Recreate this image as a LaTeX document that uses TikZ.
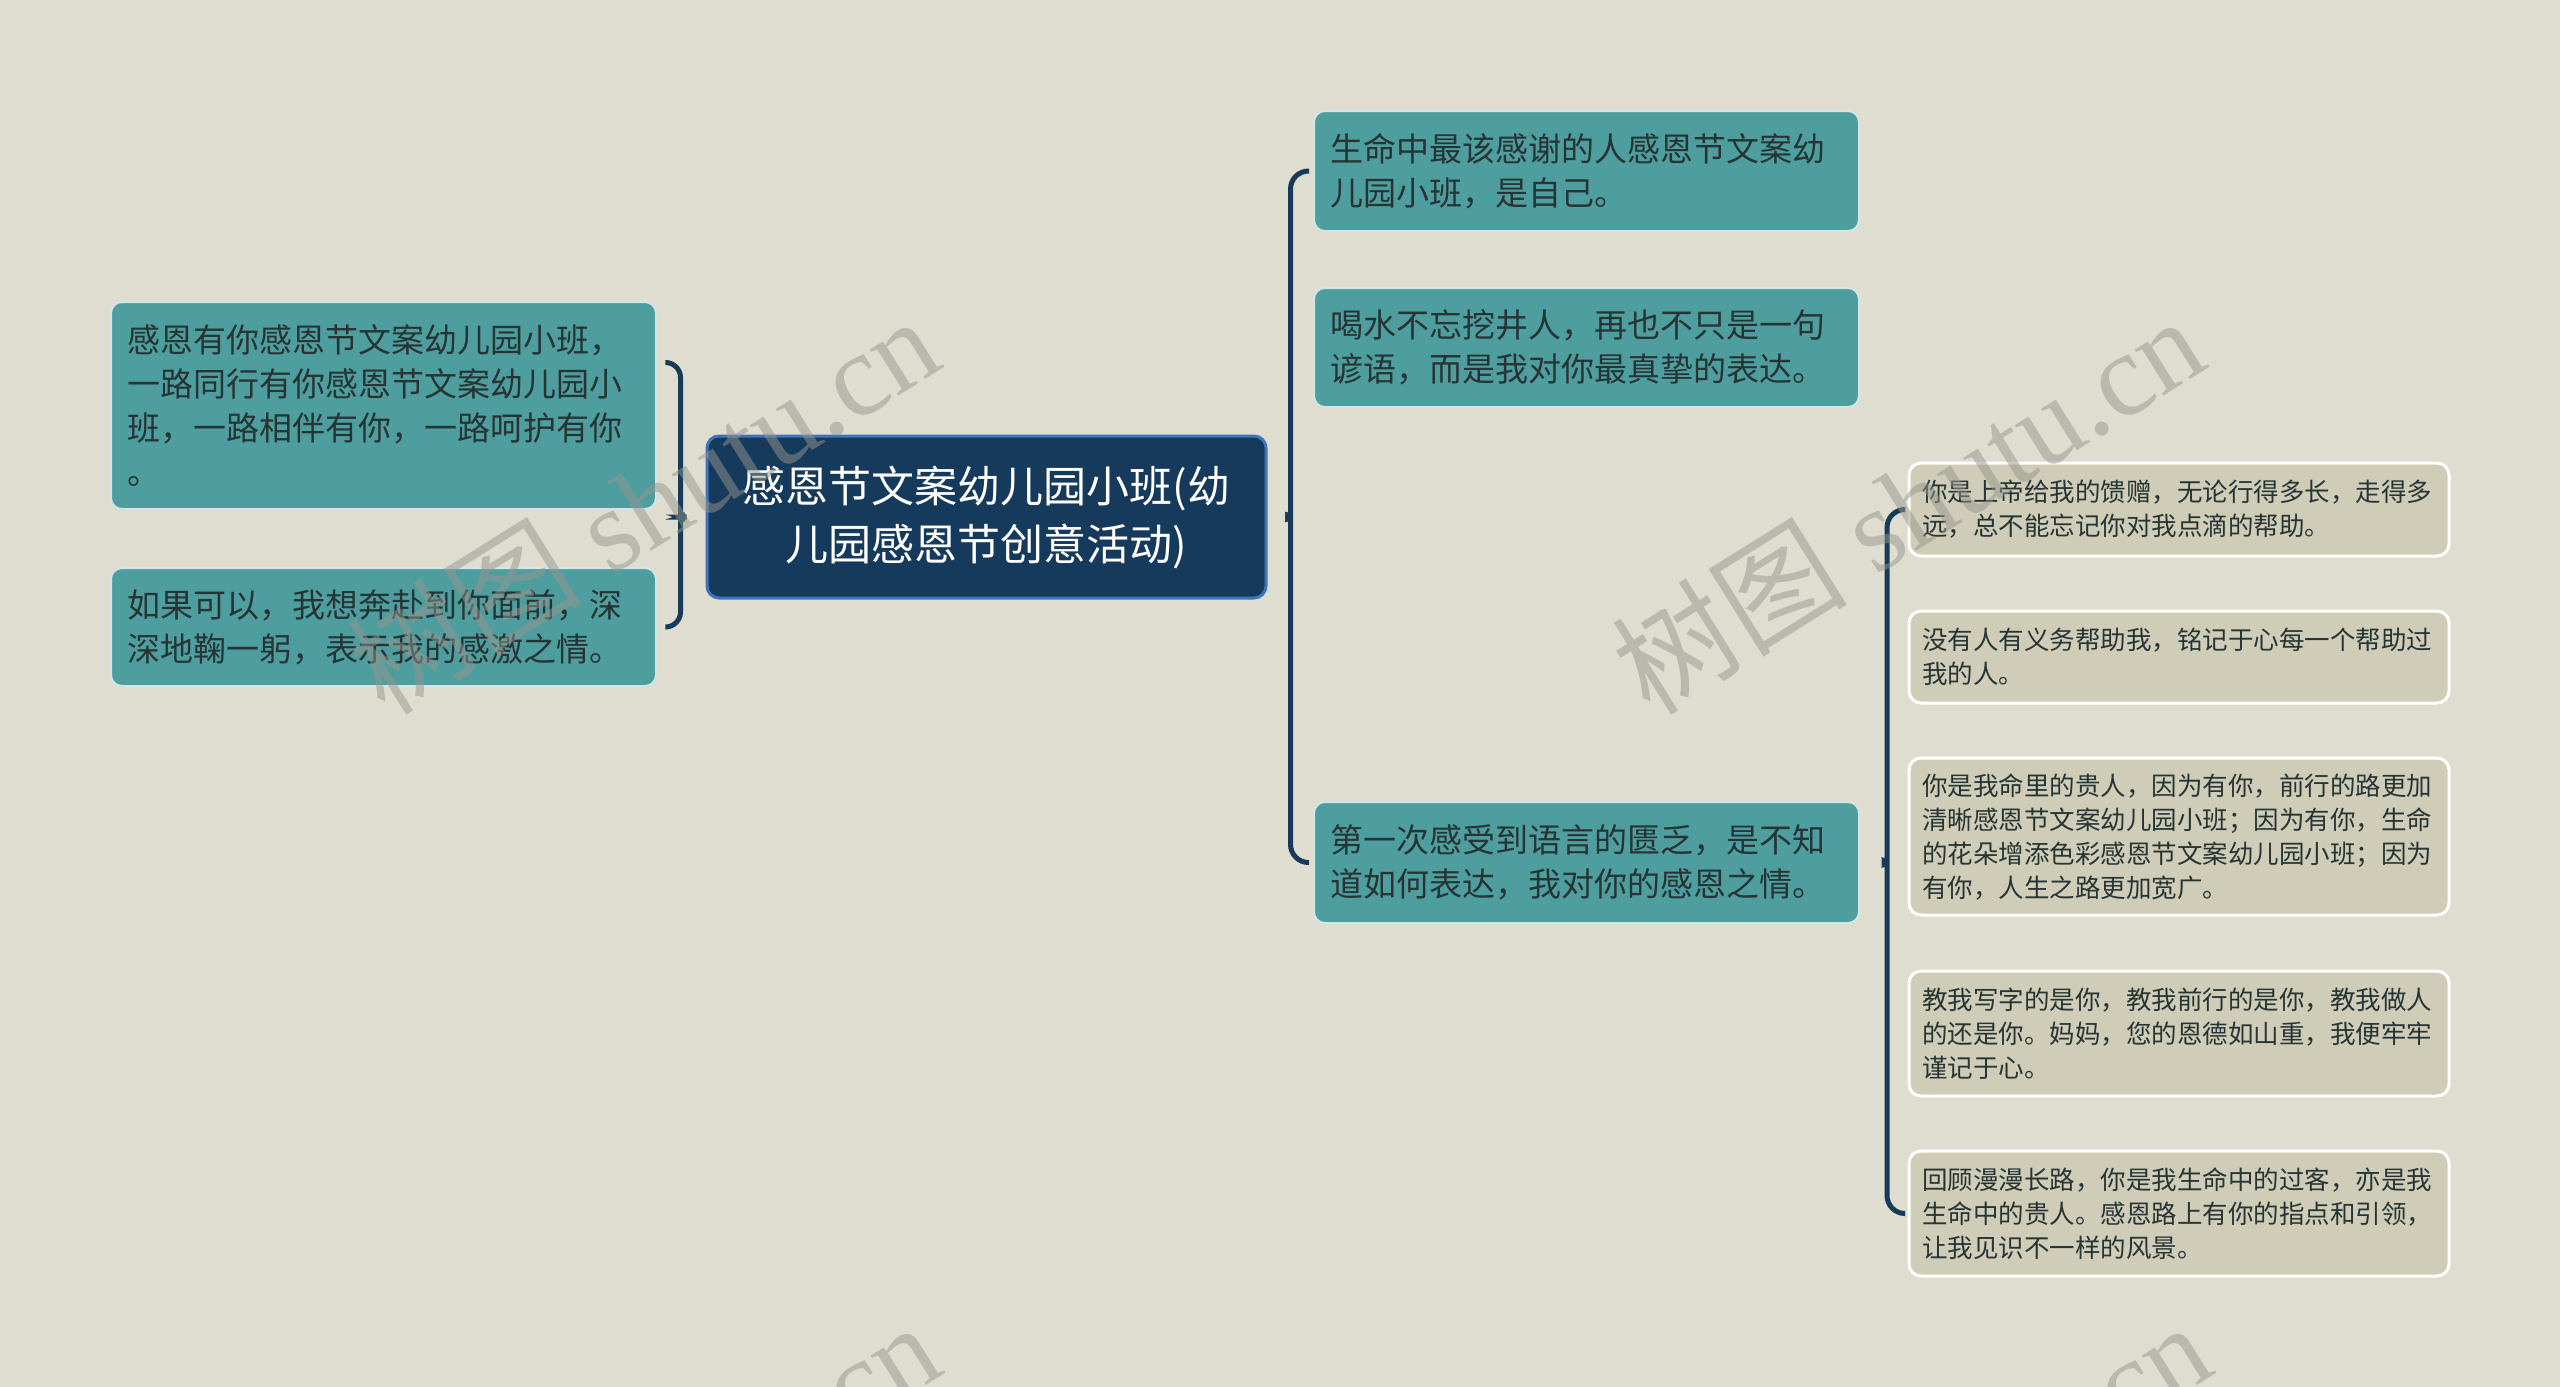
\documentclass[tikz,border=0pt]{standalone}
\usepackage{fontspec}
\setmainfont{Noto Sans CJK SC}
\newfontfamily\wmlatin{Liberation Serif}
\newfontfamily\wmcjk{Noto Sans CJK SC}
\usetikzlibrary{positioning,calc}

\definecolor{canvasbg}{RGB}{223,221,207}
\definecolor{tealbox}{RGB}{78,157,159}
\definecolor{rootbox}{RGB}{22,58,92}
\definecolor{rootedge}{RGB}{64,116,184}
\definecolor{leafbox}{RGB}{207,204,183}
\definecolor{inktext}{RGB}{38,52,52}
\definecolor{braceink}{RGB}{23,58,89}
\definecolor{wmgray}{RGB}{150,150,140}

\tikzset{
  topic/.style={rounded corners=12pt, fill=rootbox, draw=rootedge, line width=3pt,
    text=white, font=\fontsize{43}{58}\selectfont, align=center,
    minimum width=559pt, minimum height=162pt, inner sep=0pt},
  branch/.style={rounded corners=11pt, fill=tealbox, draw=white!75!tealbox, line width=2pt,
    text=inktext, font=\fontsize{33}{44}\selectfont, align=left,
    text width=513pt, inner xsep=16pt, inner ysep=0pt},
  leaf/.style={rounded corners=12pt, fill=leafbox, draw=white, line width=3pt,
    text=inktext, font=\fontsize{25.5}{34}\selectfont, align=left,
    text width=514pt, inner xsep=13pt, inner ysep=0pt},
  brace/.style={draw=braceink, line width=5pt},
  wmark/.style={text=wmgray, text opacity=0.5, font=\fontsize{118}{118}\wmlatin, rotate=32}
}

\begin{document}
\begin{tikzpicture}[x=1pt, y=-1pt]

    % Canvas
    \fill[canvasbg] (0,0) rectangle (2560,1387);
    \useasboundingbox (0,0) rectangle (2560,1387);
    \clip (0,0) rectangle (2560,1387);

    % Root
    \node[topic] (root) at (986.5,517) {感恩节文案幼儿园小班(幼\\儿园感恩节创意活动)};

    % Left branches
    \node[branch, minimum height=207pt] (left1) at (383.5,405.5)
        {感恩有你感恩节文案幼儿园小班，\\一路同行有你感恩节文案幼儿园小\\班，一路相伴有你，一路呵护有你\\。};
    \node[branch, minimum height=118pt] (left2) at (383.5,627)
        {如果可以，我想奔赴到你面前，深\\深地鞠一躬，表示我的感激之情。};

    % Right branches
    \node[branch, minimum height=120pt] (right1) at (1586.5,171)
        {生命中最该感谢的人感恩节文案幼\\儿园小班，是自己。};
    \node[branch, minimum height=119pt] (right2) at (1586.5,347.5)
        {喝水不忘挖井人，再也不只是一句\\谚语，而是我对你最真挚的表达。};
    \node[branch, minimum height=121pt] (right3) at (1586.5,862.5)
        {第一次感受到语言的匮乏，是不知\\道如何表达，我对你的感恩之情。};

    % Leaves of right3
    \node[leaf, minimum height=93pt] (leaf1) at (2179,509.5)
        {你是上帝给我的馈赠，无论行得多长，走得多\\远，总不能忘记你对我点滴的帮助。};
    \node[leaf, minimum height=92pt] (leaf2) at (2179,657)
        {没有人有义务帮助我，铭记于心每一个帮助过\\我的人。};
    \node[leaf, minimum height=157pt] (leaf3) at (2179,836.5)
        {你是我命里的贵人，因为有你，前行的路更加\\清晰感恩节文案幼儿园小班；因为有你，生命\\的花朵增添色彩感恩节文案幼儿园小班；因为\\有你，人生之路更加宽广。};
    \node[leaf, minimum height=125pt] (leaf4) at (2179,1033.5)
        {教我写字的是你，教我前行的是你，教我做人\\的还是你。妈妈，您的恩德如山重，我便牢牢\\谨记于心。};
    \node[leaf, minimum height=125pt] (leaf5) at (2179,1213.5)
        {回顾漫漫长路，你是我生命中的过客，亦是我\\生命中的贵人。感恩路上有你的指点和引领，\\让我见识不一样的风景。};

    % Brace points
    \path (root.west) ++(-10,0) coordinate (ltip) ++(-15,-16) coordinate (lup) ++(0,32) coordinate (ldown);
    \path ([xshift=9pt,yshift=43pt]left1.east) coordinate (lend);
    \path (root.east) ++(7,0) coordinate (rtip) ++(16,-16) coordinate (rup) ++(0,32) coordinate (rdown);
    \path (right3.east) ++(11,0) coordinate (qtip) ++(16,-16) coordinate (qup) ++(0,32) coordinate (qdown);

    % Left brace
    \draw[brace, rounded corners=15pt] (lend) -- (lend -| lup) -- (lup)
        .. controls +(0,10) and +(-9,0) .. (ltip)
        .. controls +(-9,0) and +(0,-10) .. (ldown)
        -- (left2.east -| ldown) -- ([xshift=9pt]left2.east);

    % Right brace
    \draw[brace, rounded corners=18pt] ([xshift=-4pt]right1.west) -- (right1.west -| rup) -- (rup)
        .. controls +(0,10) and +(9,0) .. (rtip)
        .. controls +(9,0) and +(0,-10) .. (rdown)
        -- (right3.west -| rdown) -- ([xshift=-4pt]right3.west);

    % Leaf brace
    \draw[brace, rounded corners=18pt] ([xshift=-4pt]leaf1.west) -- (leaf1.west -| qup) -- (qup)
        .. controls +(0,10) and +(9,0) .. (qtip)
        .. controls +(9,0) and +(0,-10) .. (qdown)
        -- (leaf5.west -| qdown) -- ([xshift=-4pt]leaf5.west);

    % Watermarks
    \node[wmark] (wm1) at (642,504) {{\wmcjk 树图} shutu.cn};
    \node[wmark] (wm2) at (1907,504) {{\wmcjk 树图} shutu.cn};
    \node[wmark] (wm3) at (643,1510) {{\wmcjk 树图} shutu.cn};
    \node[wmark] (wm4) at (1914,1510) {{\wmcjk 树图} shutu.cn};

\end{tikzpicture}
\end{document}
